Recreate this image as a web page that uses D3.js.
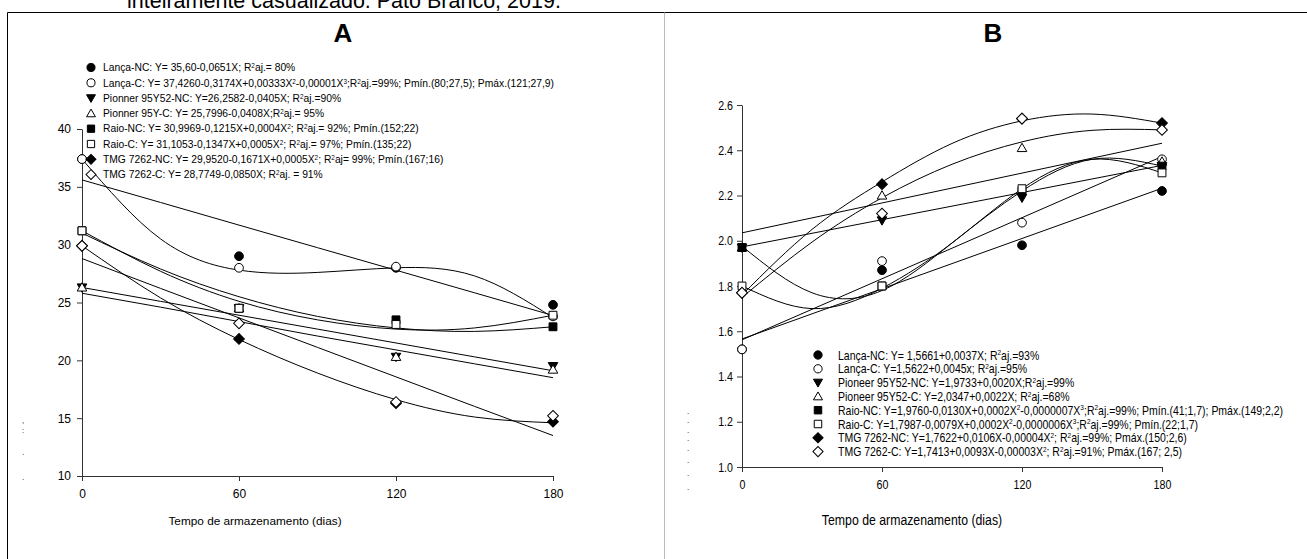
<!DOCTYPE html>
<html><head><meta charset="utf-8">
<script src="https://cdn.jsdelivr.net/npm/d3@7"></script>
<style>
body{margin:0;background:#fff}
svg{display:block}
text{font-family:'Liberation Sans',Arial,sans-serif;fill:#000}
</style></head><body>
<svg id="c" width="1307" height="559"></svg>
<script>
// ---------- data ----------
const topNote = "inteiramente casualizado. Pato Branco, 2019.";
const xTitle = "Tempo de armazenamento (dias)";
const xTicks = [0, 60, 120, 180];
const yTicksA = [10, 15, 20, 25, 30, 35, 40];
const yTicksB = [1.0, 1.2, 1.4, 1.6, 1.8, 2.0, 2.2, 2.4, 2.6];
const obsX = [0, 60, 120, 180];          // storage days (observed)
const fitX = [0, 30, 60, 90, 120, 150, 180]; // days where fitted curves were read
const markerTypes = ["circleF","circleO","triDownF","triUpO","squareF","squareO","diamondF","diamondO"];

// Panel A legend
const legendA = [
  "Lança-NC: Y= 35,60-0,0651X; R^2aj.= 80%",
  "Lança-C: Y= 37,4260-0,3174X+0,00333X^2-0,00001X^3;R^2aj.=99%; Pmín.(80;27,5); Pmáx.(121;27,9)",
  "Pionner 95Y52-NC: Y=26,2582-0,0405X; R^2aj.=90%",
  "Pionner 95Y-C: Y= 25,7996-0,0408X;R^2aj.= 95%",
  "Raio-NC: Y= 30,9969-0,1215X+0,0004X^2; R^2aj.= 92%; Pmín.(152;22)",
  "Raio-C: Y= 31,1053-0,1347X+0,0005X^2; R^2aj.= 97%; Pmín.(135;22)",
  "TMG 7262-NC: Y= 29,9520-0,1671X+0,0005X^2; R^2aj= 99%; Pmín.(167;16)",
  "TMG 7262-C: Y= 28,7749-0,0850X; R^2aj. = 91%"
];
// Panel A observed values (order of legend)
const lancaNC_A = [37.4, 29.0, 28.0, 24.8];
const lancaC_A  = [37.4, 28.0, 28.1, 23.8];
const pioNC_A   = [26.3, 24.5, 20.3, 19.5];
const pioC_A    = [26.3, 24.5, 20.3, 19.2];
const raioNC_A  = [31.2, 24.5, 23.5, 22.9];
const raioC_A   = [31.2, 24.5, 23.1, 23.9];
const tmgNC_A   = [29.9, 21.85, 16.3, 14.7];
const tmgC_A    = [29.9, 23.2, 16.4, 15.2];
// Panel A fitted curves read at fitX
const fitLancaNC_A = [35.6, 33.65, 31.69, 29.74, 27.79, 25.84, 23.88];
const fitLancaC_A  = [37.4, 30.5, 27.8, 27.6, 28.0, 27.3, 23.7];
const fitPioNC_A   = [26.3, 25.1, 23.9, 22.7, 21.5, 20.3, 19.1];
const fitPioC_A    = [25.8, 24.6, 23.35, 22.1, 20.9, 19.7, 18.5];
const fitRaioNC_A  = [31.0, 27.9, 25.5, 23.8, 22.8, 22.5, 22.9];
const fitRaioC_A   = [31.2, 27.7, 25.1, 23.5, 22.7, 22.8, 23.9];
const fitTmgNC_A   = [29.9, 25.4, 21.8, 18.9, 16.6, 15.1, 14.6];
const fitTmgC_A    = [28.8, 26.22, 23.67, 21.12, 18.57, 16.02, 13.5];

// Panel B legend
const legendB = [
  "Lança-NC: Y= 1,5661+0,0037X; R^2aj.=93%",
  "Lança-C: Y=1,5622+0,0045x; R^2aj.=95%",
  "Pioneer 95Y52-NC: Y=1,9733+0,0020X;R^2aj.=99%",
  "Pioneer 95Y52-C: Y=2,0347+0,0022X; R^2aj.=68%",
  "Raio-NC: Y=1,9760-0,0130X+0,0002X^2-0,0000007X^3;R^2aj.=99%; Pmín.(41;1,7); Pmáx.(149;2,2)",
  "Raio-C: Y=1,7987-0,0079X+0,0002X^2-0,0000006X^3;R^2aj.=99%; Pmín.(22;1,7)",
  "TMG 7262-NC: Y=1,7622+0,0106X-0,00004X^2; R^2aj.=99%; Pmáx.(150;2,6)",
  "TMG 7262-C: Y=1,7413+0,0093X-0,00003X^2; R^2aj.=91%; Pmáx.(167; 2,5)"
];
const lancaNC_B = [1.52, 1.87, 1.98, 2.22];
const lancaC_B  = [1.52, 1.91, 2.08, 2.36];
const pioNC_B   = [1.97, 2.09, 2.19, 2.33];
const pioC_B    = [1.97, 2.20, 2.41, 2.35];
const raioNC_B  = [1.97, 1.80, 2.22, 2.33];
const raioC_B   = [1.80, 1.80, 2.23, 2.30];
const tmgNC_B   = [1.77, 2.25, 2.54, 2.52];
const tmgC_B    = [1.77, 2.12, 2.54, 2.49];
const fitLancaNC_B = [1.566, 1.677, 1.788, 1.899, 2.010, 2.121, 2.232];
const fitLancaC_B  = [1.562, 1.697, 1.832, 1.967, 2.102, 2.237, 2.372];
const fitPioNC_B   = [1.973, 2.033, 2.093, 2.153, 2.213, 2.273, 2.333];
const fitPioC_B    = [2.035, 2.101, 2.167, 2.233, 2.299, 2.365, 2.431];
const fitRaioNC_B  = [1.976, 1.77, 1.78, 1.99, 2.22, 2.36, 2.33];
const fitRaioC_B   = [1.80, 1.70, 1.79, 1.99, 2.23, 2.36, 2.30];
const fitTmgNC_B   = [1.76, 2.05, 2.26, 2.43, 2.53, 2.56, 2.52];
const fitTmgC_B    = [1.75, 1.994, 2.19, 2.338, 2.437, 2.488, 2.49];

// stray marks left of each y axis
const strayA = [[22,423,","],[22,433,":"],[22,455,"."],[22,480,"."]];
const strayB = [[687,414,"."],[687,423,"."],[687,433,"."],[687,441,"."],[687,451,"."],[687,463,"."],[687,476,"."],[687,490,"."]];

// ---------- drawing ----------
const svg = d3.select("#c");

svg.append("text").attr("x",127).attr("y",8).attr("font-size",21.5).text(topNote);
svg.append("line").attr("x1",7.5).attr("x2",1307).attr("y1",12.5).attr("y2",12.5).attr("stroke","#000");
svg.append("line").attr("x1",7.5).attr("x2",7.5).attr("y1",12.5).attr("y2",559).attr("stroke","#000");
svg.append("line").attr("x1",664.5).attr("x2",664.5).attr("y1",12.5).attr("y2",559).attr("stroke","#bbb");

function markerPath(type, s){
  if(type.startsWith("circle")) return d3.symbol(d3.symbolCircle, 60*s)();
  if(type.startsWith("tri")) return d3.symbol(d3.symbolTriangle, 40*s)();
  if(type.startsWith("square")) return d3.symbol(d3.symbolSquare, 62*s)();
  return d3.symbol(d3.symbolSquare, 58*s)();
}
function drawMarker(g, type, x, y, s=1){
  let rot = 0;
  if(type.startsWith("triDown")) rot = 180;
  if(type.startsWith("diamond")) rot = 45;
  const filled = type.endsWith("F");
  const dy = type.startsWith("tri") ? (rot ? -0.8 : 0.8) : 0;
  g.append("path").attr("d", markerPath(type, s))
    .attr("transform", `translate(${x},${y+dy}) rotate(${rot})`)
    .attr("fill", filled ? "#000" : "#fff")
    .attr("stroke","#000").attr("stroke-width",1);
}
function richText(t, str, sup){
  const parts = str.split(/\^(\d)/);
  parts.forEach((p,i)=>{
    if(i%2===0){ if(p) t.append("tspan").text(p); }
    else { t.append("tspan").attr("font-size", sup).attr("baseline-shift","super").text(p); }
  });
}

function panel(cfg){
  const g = svg.append("g");
  const x = cfg.x, y = cfg.y;
  g.append("text").attr("x",cfg.titleX).attr("y",42).attr("text-anchor","middle")
    .attr("font-size",26).attr("font-weight","bold").text(cfg.title);
  const xa = g.append("g").attr("transform",`translate(0,${y.range()[0]})`)
    .call(d3.axisBottom(x).tickValues(xTicks).tickSize(5).tickSizeOuter(0).tickPadding(cfg.xPad).tickFormat(d3.format("d")));
  const ya = g.append("g").attr("transform",`translate(${x.range()[0]},0)`)
    .call(d3.axisLeft(y).tickValues(cfg.yTicks).tickSize(5).tickSizeOuter(0).tickPadding(cfg.yPad).tickFormat(cfg.yFmt));
  [xa,ya].forEach(a=>{
    a.selectAll("path,line").attr("stroke","#333");
    a.selectAll("text").attr("font-size",cfg.tickFont).attr("fill","#000")
      .attr("font-family","'Liberation Sans',Arial,sans-serif");
  });
  if(cfg.narrow){
    xa.selectAll(".tick text").attr("transform",`scale(${cfg.narrow},1)`);
    ya.selectAll(".tick text").attr("transform",`scale(${cfg.narrow},1)`);
  }
  g.append("text").attr("text-anchor","middle").attr("font-size",cfg.titleFont)
    .attr("transform",`translate(${cfg.xTitleX},${cfg.xTitleY}) scale(${cfg.narrow||1},1)`).text(xTitle);
  const line = d3.line().x((d,i)=>x(fitX[i])).y(d=>y(d)).curve(d3.curveNatural);
  cfg.fits.forEach(f=>{
    g.append("path").attr("d",line(f)).attr("fill","none").attr("stroke","#000").attr("stroke-width",1);
  });
  cfg.obs.forEach((s,k)=>{
    s.forEach((v,i)=>drawMarker(g, markerTypes[k], x(obsX[i]), y(v)));
  });
  cfg.legend.forEach((str,k)=>{
    const ly = cfg.legY + k*cfg.legDY;
    drawMarker(g, markerTypes[k], cfg.legMX, ly, cfg.legMS);
    const t = g.append("text").attr("font-size",cfg.legFont)
      .attr("transform",`translate(${cfg.legTX},${ly+cfg.legFont*0.36}) scale(${cfg.narrow||1},1)`);
    richText(t, str, cfg.legFont*0.62);
  });
  cfg.stray.forEach(s=>g.append("text").attr("x",s[0]).attr("y",s[1]).attr("font-size",8).attr("fill","#444").text(s[2]));
}

panel({
  title:"A", titleX:343,
  x: d3.scaleLinear([0,180],[82,553]),
  y: d3.scaleLinear([10,40],[476,129]),
  yTicks:yTicksA, yFmt:d3.format("d"), xPad:8, yPad:6, tickFont:12,
  titleFont:11.8, xTitleX:255, xTitleY:525, narrow:0,
  fits:[fitLancaNC_A,fitLancaC_A,fitPioNC_A,fitPioC_A,fitRaioNC_A,fitRaioC_A,fitTmgNC_A,fitTmgC_A],
  obs:[lancaNC_A,lancaC_A,pioNC_A,pioC_A,raioNC_A,raioC_A,tmgNC_A,tmgC_A],
  legend:legendA, legY:67.5, legDY:15.3, legMX:91, legTX:103, legFont:10.3, legMS:0.85,
  stray:strayA
});
panel({
  title:"B", titleX:993,
  x: d3.scaleLinear([0,180],[742,1162]),
  y: d3.scaleLinear([1.0,2.6],[467,105]),
  yTicks:yTicksB, yFmt:d3.format(".1f"), xPad:8, yPad:6, tickFont:13,
  titleFont:15, xTitleX:912, xTitleY:525, narrow:0.82,
  fits:[fitLancaNC_B,fitLancaC_B,fitPioNC_B,fitPioC_B,fitRaioNC_B,fitRaioC_B,fitTmgNC_B,fitTmgC_B],
  obs:[lancaNC_B,lancaC_B,pioNC_B,pioC_B,raioNC_B,raioC_B,tmgNC_B,tmgC_B],
  legend:legendB, legY:355, legDY:13.8, legMX:818, legTX:838, legFont:12.8, legMS:0.9,
  stray:strayB
});
</script></body></html>
